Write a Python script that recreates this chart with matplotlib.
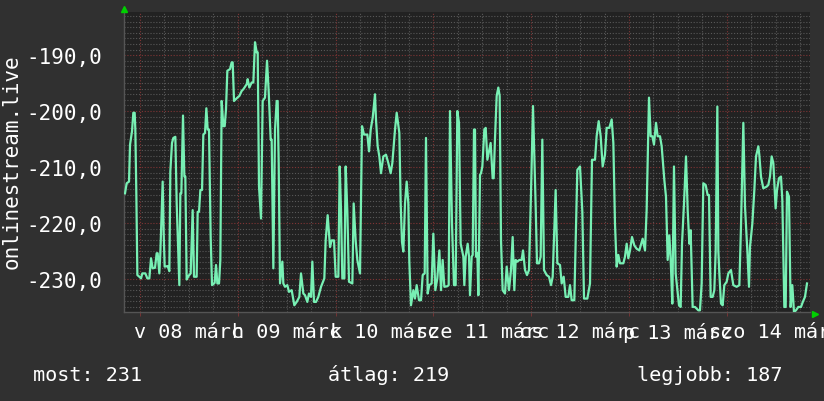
import numpy as np
import matplotlib.pyplot as plt
from matplotlib.ticker import FuncFormatter

# hours since midnight of 8 March, and the ping values
hours = [-3.68, -3.27, -2.70, -2.45, -1.96, -1.64, -1.31, -1.15, -0.90, -0.65, -0.16, 0.25, 0.57, 1.31, 1.80,
         2.29, 2.70, 3.11, 3.68, 4.09, 4.33, 4.74, 4.99, 5.56, 5.81, 6.05, 6.79, 7.20, 7.44, 7.85, 8.18, 8.67,
         9.00, 9.65, 9.90, 10.14, 10.55, 10.88, 11.12, 11.45, 11.86, 12.43, 12.92, 13.25, 13.90, 14.15, 14.48,
         14.81, 15.22, 15.54, 15.95, 16.28, 16.61, 16.93, 17.34, 17.67, 18.32, 18.65, 18.98, 19.39, 19.71, 20.04,
         20.45, 20.78, 21.10, 21.43, 22.09, 22.49, 22.74, 23.07, 23.89, 24.38,
         24.95, 25.36, 26.18, 26.42, 26.83, 27.40, 27.81, 28.22, 28.63, 28.88, 29.20, 29.69, 30.10, 30.67, 31.17,
         31.57, 32.07, 32.31, 32.72, 33.13, 33.54, 33.78, 34.03, 34.36, 34.93, 35.17, 35.58, 36.15, 36.56, 37.22,
         37.87, 38.45, 39.10, 39.51, 40.08, 40.49, 41.06, 41.47, 41.96, 42.29, 42.70, 43.19, 43.76, 44.42, 45.23,
         45.56, 46.05, 46.63, 47.03, 47.61, 48.02, 48.67, 49.00, 49.33, 49.65, 50.15, 50.47, 50.88, 51.29, 52.11,
         52.43,
         52.92, 53.33, 53.99, 54.48, 54.97, 55.79, 56.20, 56.61, 57.10, 57.67, 57.91, 58.32, 58.73, 59.14, 59.71,
         60.37, 60.94, 61.51, 61.92, 62.58, 62.99, 63.64, 63.97, 64.29, 64.62, 65.03, 65.44, 65.85, 66.09, 66.50,
         67.08, 67.48, 67.89, 68.47, 68.96, 69.37, 69.86, 70.18, 70.59, 71.00, 71.57, 71.98, 72.47, 72.96, 73.46,
         73.87, 74.27, 74.68, 75.42, 75.75, 76.07, 76.56, 77.05, 77.46, 77.87, 78.28, 78.69, 79.35, 79.59, 79.92,
         80.41,
         80.74, 80.98, 81.39, 81.64, 81.96, 82.21, 82.45, 82.78, 83.03, 83.44, 83.68, 84.01, 84.50, 84.83, 85.24,
         85.64, 86.05, 86.54, 86.79, 87.12, 87.53, 87.93, 88.26, 88.59, 88.99, 89.57, 89.98, 90.55, 91.04, 91.45,
         91.86, 92.19, 92.60, 93.09, 93.66, 93.99, 94.48, 94.97, 95.46, 95.95, 96.44, 96.77, 97.10, 97.42, 97.91,
         98.32, 98.73, 99.14, 99.80, 100.37, 100.86, 101.27, 102.00, 102.41, 103.07, 103.48, 103.97, 104.46,
         105.11, 105.52, 105.93, 106.58, 106.91, 107.32, 107.98,
         108.55, 108.96, 109.78, 110.43, 110.92, 111.66, 112.06, 112.56, 113.05, 113.54, 114.11, 114.52, 115.17,
         115.75, 116.16, 116.56, 116.97, 117.38, 117.79, 118.61, 119.02, 119.43, 119.84, 120.25, 120.74, 121.31,
         121.88, 122.54, 123.35, 123.93, 124.33, 124.91, 125.32, 125.73, 126.13, 126.63, 127.03, 127.61, 128.02,
         128.67, 129.08, 129.49, 129.90, 130.23, 130.63, 131.04, 131.45, 132.27, 132.68, 133.01, 133.50, 133.99,
         134.40, 134.81, 135.13, 135.62, 136.20,
         137.01, 137.42, 137.83, 138.24, 138.81, 139.30, 139.63, 140.04, 140.53, 140.94, 141.27, 141.68, 141.92,
         142.17, 142.58, 142.99, 143.39, 143.97, 144.38, 145.03, 145.60, 146.42, 147.08, 147.48, 148.06, 148.47,
         149.04, 149.45, 149.69, 150.27, 150.76, 151.17, 151.74, 151.98, 152.39, 152.96, 153.78, 154.19, 154.60,
         155.01, 155.42, 155.99, 156.32, 156.81, 157.30, 157.63, 158.12, 158.45, 158.77, 159.26, 159.67, 160.08,
         160.49, 160.98, 161.55, 162.21, 162.66, 163.19, 163.68]

values = [-214.7, -212.9, -212.6, -206.0, -203.6, -200.3, -200.3, -203.3, -215.0, -229.3, -229.6, -229.9, -229.0,
          -229.0, -229.9, -229.9, -226.3, -228.1, -228.0, -225.4, -225.4, -229.0, -225.3, -212.6, -221.9, -227.8,
          -227.7, -228.6, -210.8, -205.7, -204.8, -204.6, -216.5, -231.1, -214.7, -214.7, -200.8, -211.7, -211.7,
          -230.1, -229.5, -229.0, -217.7, -229.6, -229.6, -218.0, -218.0, -214.1, -214.1, -204.2, -203.9, -199.5,
          -203.3, -203.3, -222.5, -231.1, -230.7, -227.5, -230.8, -230.8, -226.6, -198.2, -202.7, -202.7, -199.7,
          -192.8, -192.5, -191.3, -191.3, -198.2, -197.6, -197.3,
          -196.4, -196.1, -195.2, -194.3, -195.8, -194.9, -194.9, -187.7, -189.5, -189.5, -213.5, -219.2, -198.2,
          -197.6, -191.0, -196.4, -205.1, -205.1, -228.1, -203.3, -198.2, -198.2, -209.3, -230.8, -226.9, -230.8,
          -231.4, -231.1, -232.3, -232.0, -234.7, -234.1, -233.2, -229.0, -232.6, -232.9, -234.1, -232.6, -233.2,
          -226.9, -234.1, -234.1, -233.2, -231.4, -229.9, -223.1, -218.6, -224.3, -223.1, -223.1, -229.6, -229.6,
          -209.9, -217.7, -229.9, -229.9, -209.9, -218.0, -230.5, -230.8, -216.5,
          -223.1, -226.6, -229.0, -202.7, -204.2, -204.2, -207.2, -203.3, -201.2, -197.0, -201.5, -206.3, -208.1,
          -211.1, -208.1, -207.8, -209.3, -211.1, -209.3, -203.3, -200.3, -203.9, -216.5, -223.4, -225.1, -216.5,
          -212.6, -216.5, -226.9, -234.7, -232.0, -233.5, -231.1, -233.8, -233.8, -229.3, -229.0, -204.8, -232.6,
          -231.1, -230.8, -221.9, -232.0, -229.9, -224.9, -232.0, -226.6, -231.4, -231.3, -231.1, -200.0, -220.1,
          -231.1, -231.1, -200.0, -202.1, -223.7, -226.0, -231.1, -226.0, -223.7,
          -226.0, -232.9, -226.0, -225.7, -203.3, -203.3, -226.0, -225.4, -232.9, -211.4, -211.1, -209.9, -203.3,
          -203.0, -208.7, -207.2, -205.7, -212.0, -212.0, -204.8, -197.3, -195.8, -197.3, -223.1, -232.0, -232.6,
          -227.8, -232.0, -228.4, -222.5, -232.0, -226.6, -226.9, -226.6, -226.6, -224.9, -228.4, -229.3, -228.4,
          -214.7, -199.1, -208.1, -217.1, -227.2, -227.2, -226.0, -205.1, -228.4, -229.3, -229.6, -231.1, -229.6,
          -214.1, -227.2, -227.5, -230.8, -229.6, -233.2, -233.2, -231.1, -233.8, -233.8, -223.7, -210.5, -209.9,
          -218.0, -233.5, -233.5, -230.8, -208.7, -208.7, -204.5, -201.8, -204.5, -209.9, -207.8, -203.0, -203.0,
          -201.5, -205.7, -220.1, -227.8, -225.7, -227.2, -227.2, -226.0, -223.7, -226.3, -224.9, -222.5, -224.0,
          -224.6, -224.9, -222.8, -224.9, -217.7, -197.6, -204.5, -204.5, -206.0, -202.1, -204.5, -204.5, -206.3,
          -212.3, -215.3, -226.6, -222.2, -226.6, -234.4, -209.9, -229.0, -234.7, -235.0, -223.7, -216.5, -208.1,
          -217.7, -223.7, -221.3, -235.0, -235.0,
          -235.6, -235.6, -230.8, -212.9, -213.2, -215.0, -215.0, -233.2, -233.2, -232.0, -225.1, -199.2, -224.9,
          -229.0, -234.4, -234.7, -231.1, -230.5, -229.0, -228.4, -231.1, -231.4, -231.1, -220.7, -202.1, -217.1,
          -224.9, -231.4, -224.3, -220.1, -214.1, -208.1, -206.3, -207.8, -211.7, -213.8, -213.5, -213.2, -211.7,
          -208.1, -209.3, -217.4, -214.1, -212.0, -211.7, -215.9, -235.0, -235.0, -214.4, -215.3, -235.0, -231.1,
          -235.9, -235.6, -235.0, -235.0, -234.1, -233.2, -230.8]

day_labels = ['v 08 márc', 'h 09 márc', 'k 10 márc', 'sze 11 márc', 'cs 12 márc', 'p 13 márc', 'szo 14 márc']
y_major = [-230, -220, -210, -200, -190]
stat_now, stat_avg, stat_best = 231, 219, 187
series_name = 'onlinestream.live'

FONT = 'DejaVu Sans Mono'
BG = '#303030'
PLOT_BG = '#222222'
LINE = '#78f0b4'
GRID_MINOR = '#585858'
GRID_MAJOR = '#803535'

fig = plt.figure(figsize=(8.24, 4.02), dpi=100, facecolor=BG)
ax = fig.add_axes([124 / 824, 89 / 402, 686 / 824, 300 / 402])
ax.set_facecolor(PLOT_BG)

x0, x1 = -3.93, 164.42
y0, y1 = -235.9, -182.3
ax.set_xlim(x0, x1)
ax.set_ylim(y0, y1)

# grid: every unit / every 6 hours in grey, every 10 units / every day in red
dots = (0, (1, 1.6))
y_minor = [v for v in range(-235, -182) if v % 10 != 0]
x_minor = [h for h in range(6, 165, 6) if h % 24 != 0]
x_major = list(range(0, 165, 24))
ax.hlines(y_minor, x0, x1, colors=GRID_MINOR, linestyles=dots, lw=0.8, zorder=1)
ax.vlines(x_minor, y0, y1, colors=GRID_MINOR, linestyles=dots, lw=0.8, zorder=1)
ax.hlines(y_major, x0, x1, colors=GRID_MAJOR, linestyles=dots, lw=0.8, zorder=2)
ax.vlines(x_major, y0, y1, colors=GRID_MAJOR, linestyles=dots, lw=0.8, zorder=2)

ax.plot(hours, values, color=LINE, lw=1.6, zorder=3)

ax.set_yticks(y_major)
ax.yaxis.set_major_formatter(FuncFormatter(lambda v, p: f'{v:.1f}'.replace('.', ',')))
ax.tick_params(axis='y', length=0, pad=16, labelsize=15, labelcolor='white')
for t in ax.get_yticklabels():
    t.set_family(FONT)

noons = [12 + 24 * i for i in range(len(day_labels))]
ax.set_xticks(noons, day_labels)
ax.set_xticks(x_major, minor=True)
ax.tick_params(axis='x', which='major', length=0, pad=7, labelsize=14.5, labelcolor='white')
ax.tick_params(axis='x', which='minor', length=3, color=GRID_MAJOR, direction='out')
for t in ax.get_xticklabels():
    t.set_family(FONT)

for side in ['top', 'right']:
    ax.spines[side].set_visible(False)
for side in ['left', 'bottom']:
    ax.spines[side].set_color('#555555')
    ax.spines[side].set_linewidth(1)

# rrdtool style axis arrows
ax.plot([0], [1.01], marker='^', ms=4.5, color='#00d000', transform=ax.transAxes, clip_on=False, zorder=5)
ax.plot([1.008], [-0.005], marker='>', ms=4.5, color='#00d000', transform=ax.transAxes, clip_on=False, zorder=5)

fig.text(12 / 824, 1 - 162 / 402, series_name, rotation=90, ha='center', va='center',
         color='white', fontsize=15, family=FONT)

base = 21 / 402
fig.text(33 / 824, base, f'most: {stat_now}', color='white', fontsize=14.5, family=FONT, va='baseline')
fig.text(328 / 824, base, f'átlag: {stat_avg}', color='white', fontsize=14.5, family=FONT, va='baseline')
fig.text(637 / 824, base, f'legjobb: {stat_best}', color='white', fontsize=14.5, family=FONT, va='baseline')

fig.savefig('out.png', dpi=100, facecolor=BG)
